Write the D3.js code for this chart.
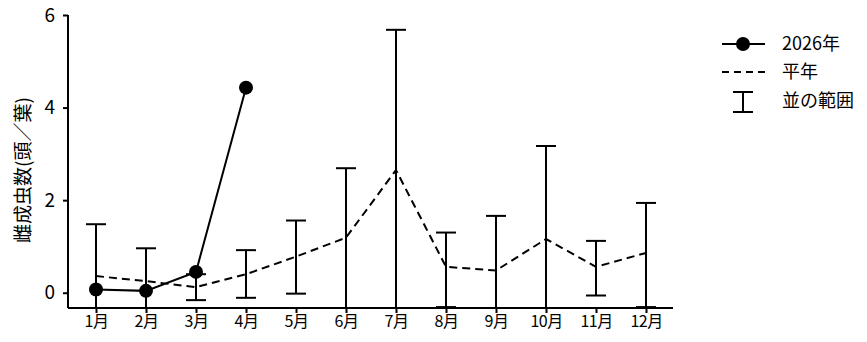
<!DOCTYPE html>
<html>
<head>
<meta charset="utf-8">
<script src="https://cdn.jsdelivr.net/npm/d3@7"></script>
<style>
  body { margin: 0; background: #fff; }
  text { font-family: "Noto Sans CJK JP", "DejaVu Sans", sans-serif; fill: #000; }
</style>
</head>
<body>
<svg id="chart" width="867" height="342"></svg>
<script>
// data
var months = ["1月", "2月", "3月", "4月", "5月", "6月", "7月", "8月", "9月", "10月", "11月", "12月"];
var thisYear = [0.07, 0.04, 0.45, 4.43];            // 2026年 (Jan-Apr)
var normal = [0.36, 0.25, 0.12, 0.40, 0.78, 1.19, 2.65, 0.56, 0.48, 1.16, 0.56, 0.86]; // 平年
var rangeHigh = [1.48, 0.96, 0.40, 0.92, 1.56, 2.69, 5.68, 1.30, 1.66, 3.17, 1.12, 1.94];
var rangeLow = [-0.76, -0.46, -0.16, -0.11, -0.02, -0.45, -0.50, -0.31, -0.70, -0.85, -0.06, -0.31];
var yTicks = [0, 2, 4, 6];

var svg = d3.select("#chart");

var x = d3.scaleLinear().domain([0.44, 12.54]).range([68, 673]);
var y = d3.scaleLinear().domain([-0.33, 6]).range([308, 15]);

// clip for whiskers that go below the axis
svg.append("defs").append("clipPath").attr("id", "plot")
   .append("rect").attr("x", 68).attr("y", 0).attr("width", 620).attr("height", 308);

var plot = svg.append("g").attr("clip-path", "url(#plot)");

// range bars
var bars = plot.selectAll("g.bar").data(months).enter().append("g").attr("class", "bar");
bars.append("line")
    .attr("x1", function(d, i) { return x(i + 1); })
    .attr("x2", function(d, i) { return x(i + 1); })
    .attr("y1", function(d, i) { return y(rangeHigh[i]); })
    .attr("y2", function(d, i) { return y(rangeLow[i]); })
    .attr("stroke", "#000").attr("stroke-width", 2);
bars.append("line")
    .attr("x1", function(d, i) { return x(i + 1) - 10; })
    .attr("x2", function(d, i) { return x(i + 1) + 10; })
    .attr("y1", function(d, i) { return y(rangeHigh[i]); })
    .attr("y2", function(d, i) { return y(rangeHigh[i]); })
    .attr("stroke", "#000").attr("stroke-width", 2);
bars.append("line")
    .attr("x1", function(d, i) { return x(i + 1) - 10; })
    .attr("x2", function(d, i) { return x(i + 1) + 10; })
    .attr("y1", function(d, i) { return y(rangeLow[i]); })
    .attr("y2", function(d, i) { return y(rangeLow[i]); })
    .attr("stroke", "#000").attr("stroke-width", 2);

// 平年 dashed line
var line = d3.line().x(function(d, i) { return x(i + 1); }).y(function(d) { return y(d); });
plot.append("path").datum(normal)
    .attr("d", line)
    .attr("fill", "none").attr("stroke", "#000").attr("stroke-width", 2)
    .attr("stroke-dasharray", "8,5");

// 2026 line + markers
plot.append("path").datum(thisYear)
    .attr("d", line)
    .attr("fill", "none").attr("stroke", "#000").attr("stroke-width", 2);
plot.selectAll("circle").data(thisYear).enter().append("circle")
    .attr("cx", function(d, i) { return x(i + 1); })
    .attr("cy", function(d) { return y(d); })
    .attr("r", 7).attr("fill", "#000");

// axes
var yAxis = svg.append("g").attr("transform", "translate(68,0)")
    .call(d3.axisLeft(y).tickValues(yTicks).tickSize(5).tickPadding(8).tickFormat(d3.format("d")));
var xAxis = svg.append("g").attr("transform", "translate(0,308)")
    .call(d3.axisBottom(x).tickValues(d3.range(1, 13)).tickSize(5).tickPadding(3)
          .tickFormat(function(d) { return months[d - 1]; }));
[yAxis, xAxis].forEach(function(a) {
  a.select(".domain").attr("stroke-width", 2).attr("d", a === yAxis ? "M0,15V308" : "M68,0H673");
  a.selectAll(".tick line").attr("stroke-width", 2);
  a.selectAll("text").style("font-family", '"Noto Sans CJK JP", sans-serif');
});
yAxis.selectAll("text").attr("font-size", 19);
xAxis.selectAll("text").attr("font-size", 16).attr("letter-spacing", "-0.5px");

// y label
svg.append("text")
   .attr("transform", "translate(23,170) rotate(-90)")
   .attr("text-anchor", "middle")
   .attr("dy", "0.35em")
   .attr("font-size", 19)
   .text("雌成虫数(頭／葉)");

// legend
var lg = svg.append("g");
lg.append("line").attr("x1", 722).attr("x2", 765).attr("y1", 44).attr("y2", 44)
  .attr("stroke", "#000").attr("stroke-width", 2);
lg.append("circle").attr("cx", 743).attr("cy", 44).attr("r", 7).attr("fill", "#000");
lg.append("line").attr("x1", 722).attr("x2", 765).attr("y1", 72).attr("y2", 72)
  .attr("stroke", "#000").attr("stroke-width", 2).attr("stroke-dasharray", "7,5");
lg.append("path").attr("d", "M733,92H753M743,92V112M733,112H753")
  .attr("fill", "none").attr("stroke", "#000").attr("stroke-width", 2);
var legendText = ["2026年", "平年", "並の範囲"];
lg.selectAll("text").data(legendText).enter().append("text")
  .attr("x", 782)
  .attr("y", function(d, i) { return [44, 72, 101][i]; })
  .attr("dy", "0.35em")
  .attr("font-size", 18)
  .text(function(d) { return d; });
</script>
</body>
</html>
